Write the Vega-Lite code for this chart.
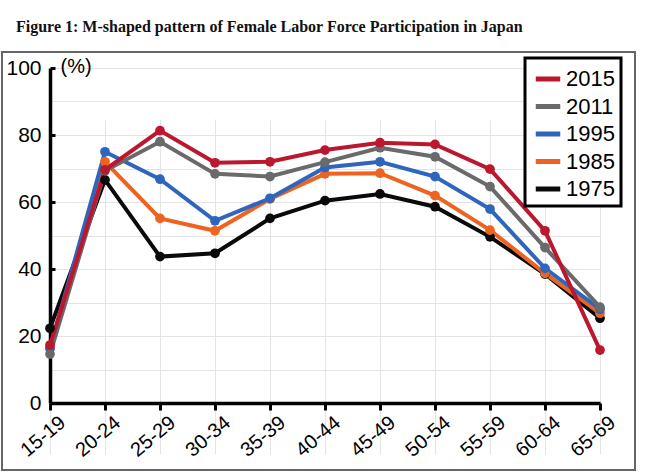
{
  "$schema": "https://vega.github.io/schema/vega-lite/v6.json",
  "autosize": "none",
  "width": 633,
  "height": 418,
  "padding": {"left": 2, "top": 52, "right": 12, "bottom": 2},
  "background": "white",
  "title": {
    "text": "Figure 1: M-shaped pattern of Female Labor Force Participation in Japan",
    "anchor": "start",
    "frame": "group",
    "font": "Liberation Serif",
    "fontSize": 16,
    "fontWeight": "bold",
    "color": "#111",
    "dx": 14,
    "offset": 17
  },
  "config": {
    "view": {"stroke": "#666", "strokeWidth": 2},
    "font": "Liberation Sans",
    "legend": {"strokeWidth": 3}
  },
  "data": {
    "values": [
      {"age": "15-19", "year": "1975", "rate": 22.3},
      {"age": "20-24", "year": "1975", "rate": 66.6},
      {"age": "25-29", "year": "1975", "rate": 43.7},
      {"age": "30-34", "year": "1975", "rate": 44.7},
      {"age": "35-39", "year": "1975", "rate": 55.1},
      {"age": "40-44", "year": "1975", "rate": 60.4},
      {"age": "45-49", "year": "1975", "rate": 62.4},
      {"age": "50-54", "year": "1975", "rate": 58.6},
      {"age": "55-59", "year": "1975", "rate": 49.6},
      {"age": "60-64", "year": "1975", "rate": 38.5},
      {"age": "65-69", "year": "1975", "rate": 25.3},
      {"age": "15-19", "year": "1985", "rate": 16.5},
      {"age": "20-24", "year": "1985", "rate": 72.0},
      {"age": "25-29", "year": "1985", "rate": 55.1},
      {"age": "30-34", "year": "1985", "rate": 51.4},
      {"age": "35-39", "year": "1985", "rate": 60.9},
      {"age": "40-44", "year": "1985", "rate": 68.4},
      {"age": "45-49", "year": "1985", "rate": 68.6},
      {"age": "50-54", "year": "1985", "rate": 61.9},
      {"age": "55-59", "year": "1985", "rate": 51.6},
      {"age": "60-64", "year": "1985", "rate": 38.7},
      {"age": "65-69", "year": "1985", "rate": 26.8},
      {"age": "15-19", "year": "1995", "rate": 16.2},
      {"age": "20-24", "year": "1995", "rate": 75.0},
      {"age": "25-29", "year": "1995", "rate": 66.8},
      {"age": "30-34", "year": "1995", "rate": 54.4},
      {"age": "35-39", "year": "1995", "rate": 61.1},
      {"age": "40-44", "year": "1995", "rate": 70.3},
      {"age": "45-49", "year": "1995", "rate": 72.0},
      {"age": "50-54", "year": "1995", "rate": 67.6},
      {"age": "55-59", "year": "1995", "rate": 57.9},
      {"age": "60-64", "year": "1995", "rate": 40.2},
      {"age": "65-69", "year": "1995", "rate": 28.0},
      {"age": "15-19", "year": "2011", "rate": 14.6},
      {"age": "20-24", "year": "2011", "rate": 69.3},
      {"age": "25-29", "year": "2011", "rate": 78.0},
      {"age": "30-34", "year": "2011", "rate": 68.4},
      {"age": "35-39", "year": "2011", "rate": 67.6},
      {"age": "40-44", "year": "2011", "rate": 71.9},
      {"age": "45-49", "year": "2011", "rate": 76.2},
      {"age": "50-54", "year": "2011", "rate": 73.5},
      {"age": "55-59", "year": "2011", "rate": 64.6},
      {"age": "60-64", "year": "2011", "rate": 46.4},
      {"age": "65-69", "year": "2011", "rate": 28.6},
      {"age": "15-19", "year": "2015", "rate": 17.3},
      {"age": "20-24", "year": "2015", "rate": 69.6},
      {"age": "25-29", "year": "2015", "rate": 81.3},
      {"age": "30-34", "year": "2015", "rate": 71.7},
      {"age": "35-39", "year": "2015", "rate": 72.0},
      {"age": "40-44", "year": "2015", "rate": 75.5},
      {"age": "45-49", "year": "2015", "rate": 77.7},
      {"age": "50-54", "year": "2015", "rate": 77.2},
      {"age": "55-59", "year": "2015", "rate": 69.8},
      {"age": "60-64", "year": "2015", "rate": 51.4},
      {"age": "65-69", "year": "2015", "rate": 15.8}
    ]
  },
  "encoding": {
    "x": {
      "field": "age",
      "type": "ordinal",
      "scale": {"type": "point", "range": [48, 598], "padding": 0},
      "axis": {
        "title": null,
        "offset": -67,
        "domainColor": "black",
        "domainWidth": 3.5,
        "ticks": true,
        "tickColor": "black",
        "tickWidth": 3,
        "tickSize": 7,
        "labelAngle": -40,
        "labelAlign": "right",
        "labelBaseline": "top",
        "labelFontSize": 20,
        "labelColor": "black",
        "labelPadding": 2,
        "labelOffset": 6,
        "grid": true,
        "gridColor": "#e4e4e4",
        "gridWidth": 1
      }
    },
    "color": {
      "field": "year",
      "type": "nominal",
      "scale": {
        "domain": ["2015", "2011", "1995", "1985", "1975"],
        "range": ["#bb1830", "#6a6a6a", "#2f66bd", "#ec6420", "#0a0a0a"]
      },
      "legend": {
        "title": null,
        "orient": "none",
        "legendX": 523,
        "legendY": 6,
        "fillColor": "white",
        "strokeColor": "black",
        "padding": 6,
        "symbolType": "stroke",
        "symbolStrokeWidth": 5,
        "symbolSize": 600,
        "symbolOffset": 2,
        "labelFontSize": 22,
        "labelColor": "black",
        "labelOffset": 3,
        "rowPadding": 1.5
      }
    }
  },
  "layer": [
    {
      "mark": {"type": "line", "strokeWidth": 4},
      "encoding": {
        "y": {
          "field": "rate",
          "type": "quantitative",
          "scale": {"domain": [0, 100], "range": [351, 16], "nice": false},
          "axis": {
            "orient": "left",
            "offset": -48,
            "title": null,
            "values": [0, 10, 20, 30, 40, 50, 60, 70, 80, 90, 100],
            "labels": false,
            "ticks": false,
            "domain": false,
            "grid": true,
            "gridColor": "#e4e4e4",
            "gridWidth": 1
          }
        }
      }
    },
    {
      "mark": {"type": "point", "filled": true, "opacity": 1, "size": 95},
      "encoding": {
        "y": {
          "field": "rate",
          "type": "quantitative",
          "scale": {"domain": [0, 100], "range": [351, 16], "nice": false},
          "axis": {
            "orient": "left",
            "offset": -48,
            "title": "(%)",
            "titleAngle": 0,
            "titleAlign": "left",
            "titleBaseline": "middle",
            "titleFontSize": 20,
            "titleFontWeight": "normal",
            "titleColor": "black",
            "titleX": 10,
            "titleY": 14,
            "values": [0, 20, 40, 60, 80, 100],
            "grid": false,
            "domainColor": "black",
            "domainWidth": 3.5,
            "tickColor": "black",
            "tickWidth": 3,
            "tickSize": -5,
            "labelFontSize": 21,
            "labelColor": "black",
            "labelPadding": 14
          }
        }
      }
    }
  ],
  "resolve": {"axis": {"y": "independent"}}
}
